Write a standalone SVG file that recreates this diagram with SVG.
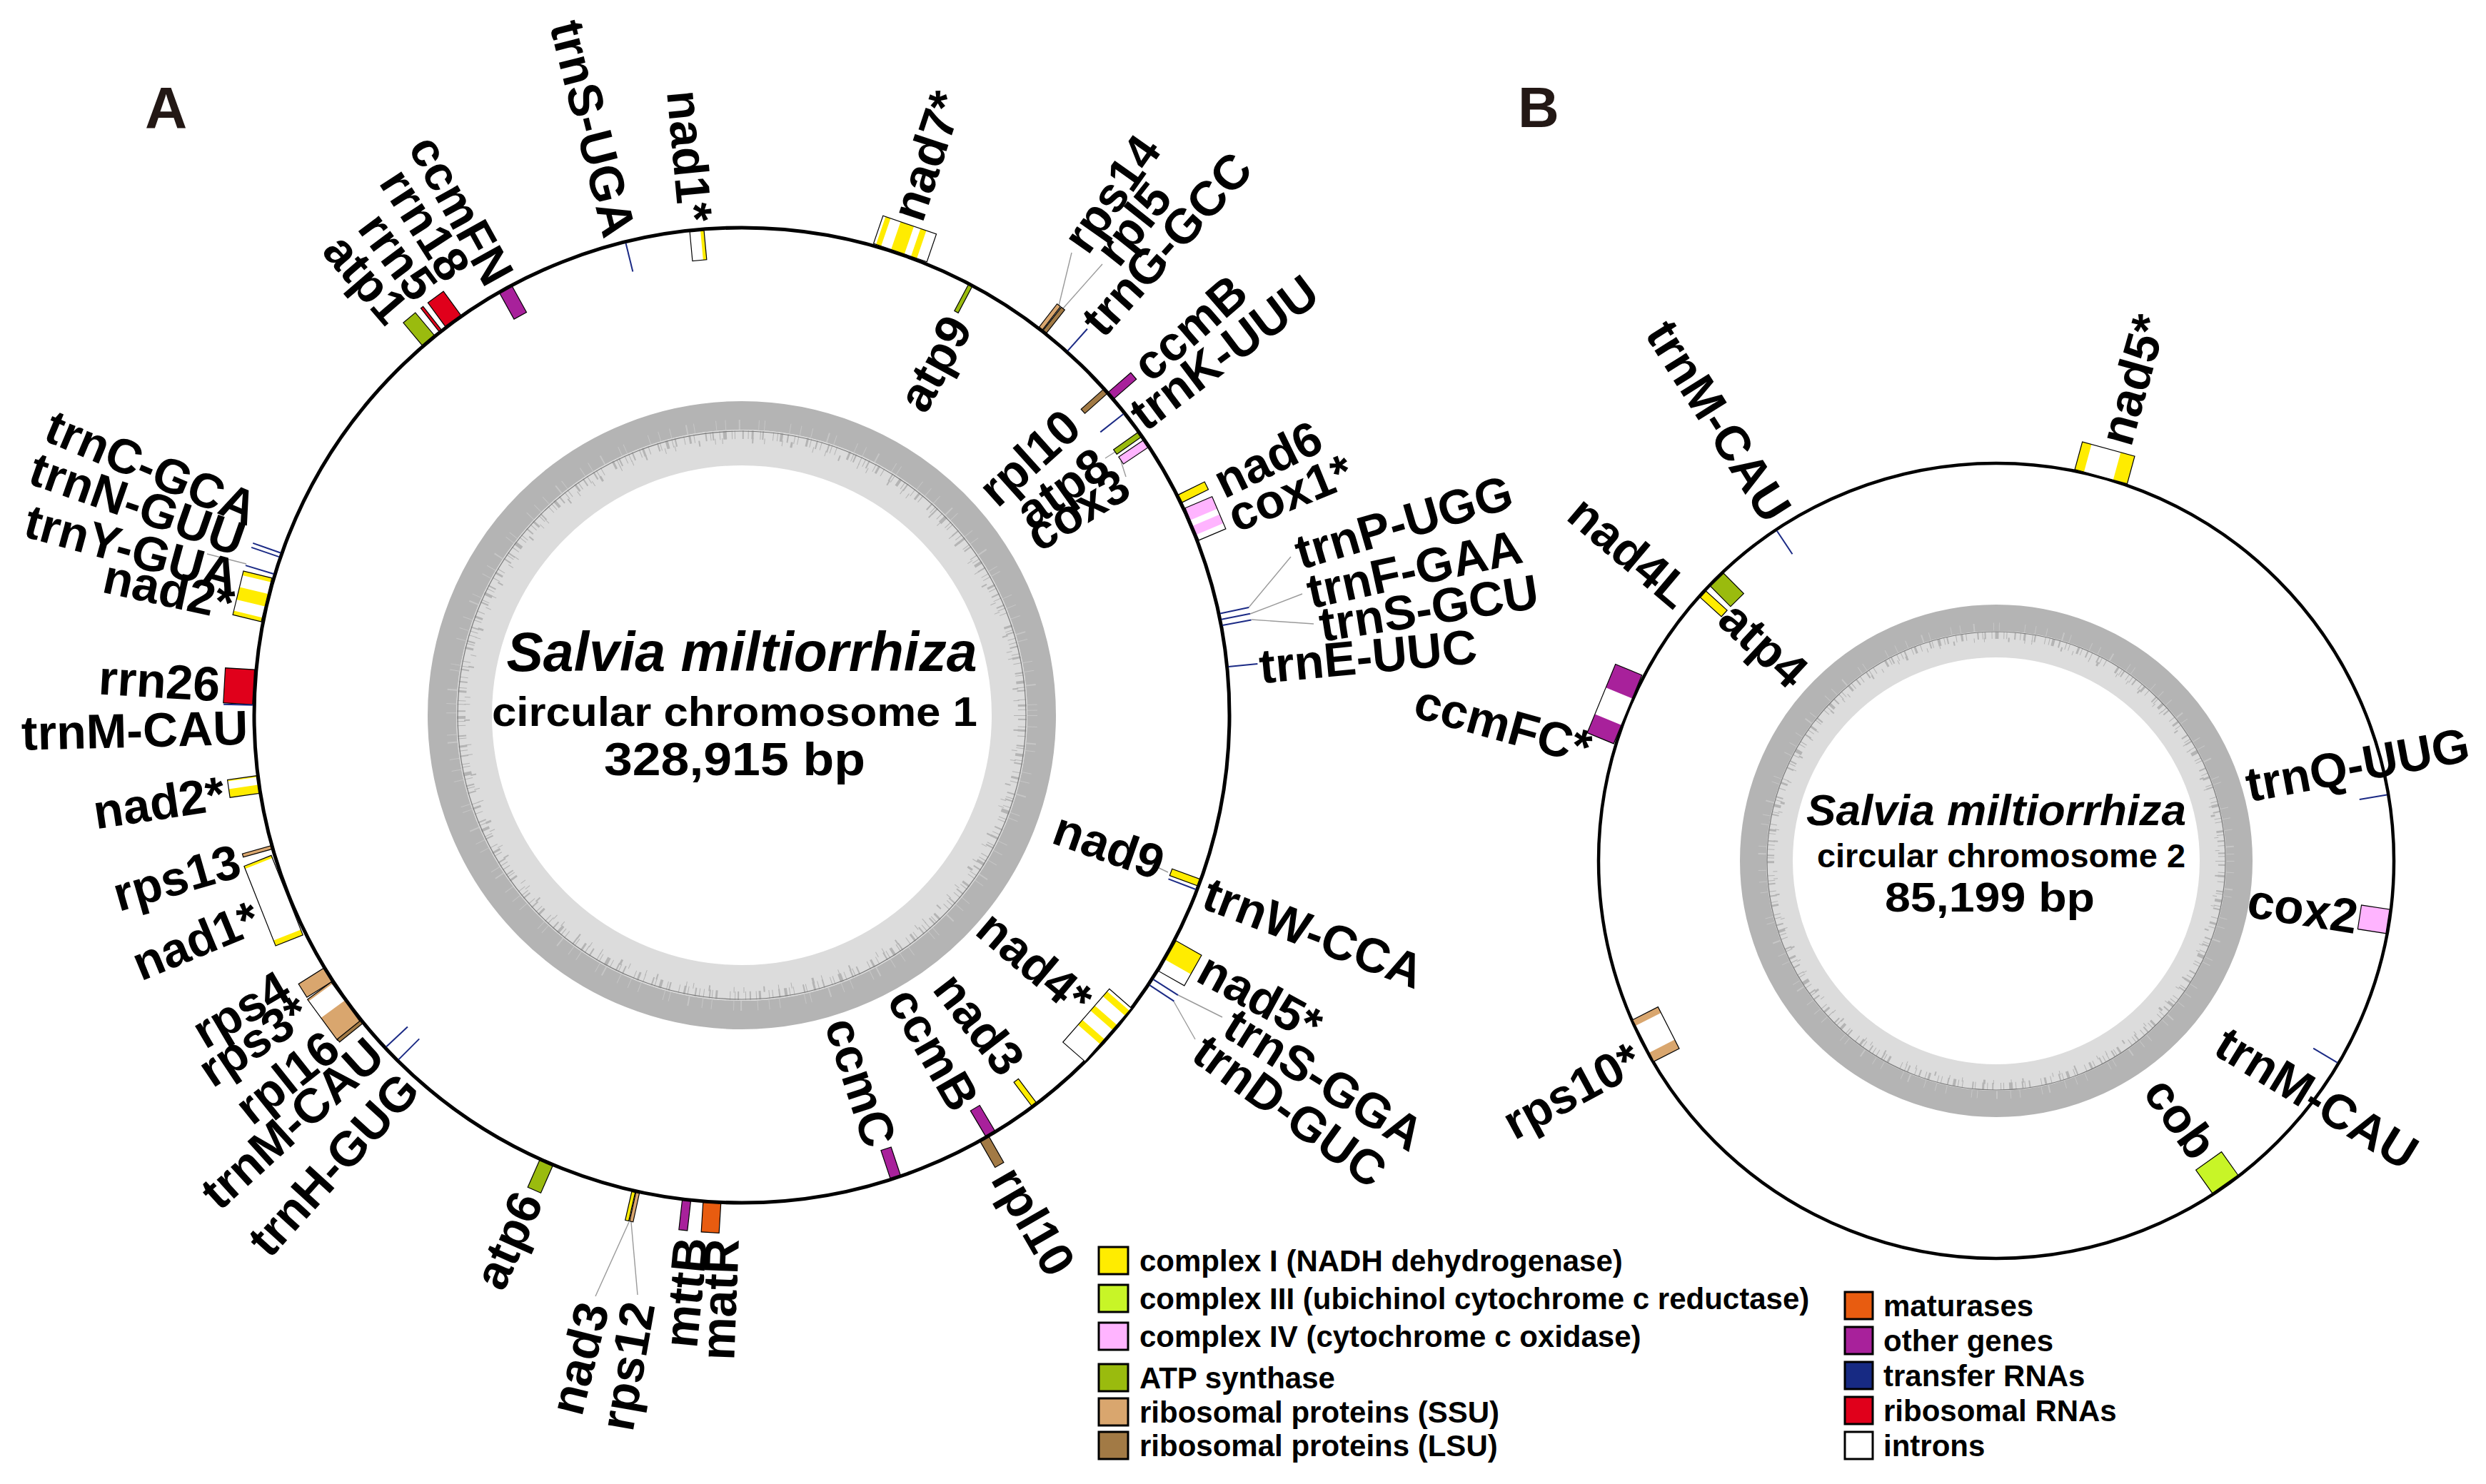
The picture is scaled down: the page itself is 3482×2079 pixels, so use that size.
<svg xmlns="http://www.w3.org/2000/svg" width="3482" height="2079" viewBox="0 0 3482 2079">
<style>
.lb{font-family:"Liberation Sans",Arial,sans-serif;font-weight:bold;font-size:68px;dominant-baseline:central;fill:#000}
.e{text-anchor:end}
.ol{fill:none;stroke:#000;stroke-width:1.2}
.bx{stroke:#000;stroke-width:1.2}
.y{fill:#ffec00}.g3{fill:#c8f527}.pk{fill:#ffb4ff}.at{fill:#9abb0e}.ss{fill:#d9a66e}.ls{fill:#a27a45}.mt{fill:#e85c10}.ot{fill:#a8219b}.rr{fill:#e0001b}.w{fill:#fff}.tb{fill:#172a83}
.tr{stroke:#1b2a85;stroke-width:2}
.ld{stroke:#9a9a9a;stroke-width:1.4;fill:none}
.lg{font-family:"Liberation Sans",Arial,sans-serif;font-weight:bold;font-size:42px;fill:#000}
.lgb{stroke:#000;stroke-width:3}
.ct{font-family:"Liberation Sans",Arial,sans-serif;font-weight:bold;fill:#000}
.pl{font-family:"Liberation Sans",Arial,sans-serif;font-weight:bold;fill:#231815}
.sp1{stroke:#b4b4b4;stroke-dasharray:1 4 2 9 1 3 3 6 1 12 2 2 1 7 4 5 1 3 2 11 1 6 3 4 1 15 2 5 1 2 2 8 1 4 5 7 1 3 1 10 2 6 1 4 3 9 1 2 2 13 1 5 1 3 4 6 2 8 1 4 1 11 3 3 1 7 2 5 1 9 2 3 1 6 1 17 3 4 1 2 2 7 1 5}
.sp2{stroke:#b4b4b4;stroke-dasharray:1 19 2 27 1 13 1 33 2 21 1 9 1 41 2 15 1 24 1 11 3 29 1 17}
.sp3{stroke:#c6c6c6;stroke-dasharray:1 15 1 22 2 9 1 30 1 12 1 18 2 26 1 7 1 35 1 14}
</style>
<rect width="3482" height="2079" fill="#fff"/>

<!-- panel letters -->
<text class="pl" x="203" y="179" font-size="82">A</text>
<text class="pl" x="2126" y="178" font-size="80">B</text>

<!-- GC rings -->
<g id="ringA" fill="none">
<circle cx="1039" cy="1002" r="375" stroke="#dcdcdc" stroke-width="50"/>
<circle cx="1039" cy="1002" r="420" stroke="#b4b4b4" stroke-width="40"/>
<circle cx="1039" cy="1002" r="393" class="sp1" stroke-width="12"/>
<circle cx="1039" cy="1002" r="385" class="sp2" stroke-width="8"/>
<circle cx="1039" cy="1002" r="407" class="sp3" stroke-width="14"/>
<circle cx="1039" cy="1002" r="398" stroke="#7a7a7a" stroke-width="1.2"/>
</g>
<g id="ringB" fill="none">
<circle cx="2796" cy="1206" r="303.5" stroke="#dcdcdc" stroke-width="37"/>
<circle cx="2796" cy="1206" r="340.5" stroke="#b4b4b4" stroke-width="37"/>
<circle cx="2796" cy="1206" r="316" class="sp1" stroke-width="10"/>
<circle cx="2796" cy="1206" r="310" class="sp2" stroke-width="6"/>
<circle cx="2796" cy="1206" r="328" class="sp3" stroke-width="11"/>
<circle cx="2796" cy="1206" r="321" stroke="#7a7a7a" stroke-width="1.2"/>
</g>

<!-- backbone circles -->
<circle id="chrA" cx="1039" cy="1002" r="683" fill="none" stroke="#000" stroke-width="5"/>
<circle id="chrB" cx="2796" cy="1206" r="557" fill="none" stroke="#000" stroke-width="4.5"/>

<!-- centre titles -->
<g id="titleA">
<text class="ct" x="1039" y="940" font-size="77" font-style="italic" text-anchor="middle">Salvia miltiorrhiza</text>
<text class="ct" x="689" y="1017" font-size="58" textLength="680" lengthAdjust="spacingAndGlyphs">circular chromosome 1</text>
<text class="ct" x="846" y="1086" font-size="64" textLength="366" lengthAdjust="spacingAndGlyphs">328,915 bp</text>
</g>
<g id="titleB">
<text class="ct" x="2530" y="1156" font-size="62" font-style="italic" textLength="532" lengthAdjust="spacingAndGlyphs">Salvia miltiorrhiza</text>
<text class="ct" x="2545" y="1215" font-size="46" textLength="516" lengthAdjust="spacingAndGlyphs">circular chromosome 2</text>
<text class="ct" x="2640" y="1277" font-size="57" textLength="294" lengthAdjust="spacingAndGlyphs">85,199 bp</text>
</g>

<!-- connectors (leader lines) -->
<g id="connectors">
<line class="ld" x1="1483" y1="428" x2="1501" y2="354"/>
<line class="ld" x1="1489" y1="432" x2="1544" y2="370"/>
<line class="ld" x1="1749" y1="851" x2="1808" y2="780"/>
<line class="ld" x1="1751" y1="860" x2="1824" y2="832"/>
<line class="ld" x1="1753" y1="868" x2="1840" y2="874"/>
<line class="ld" x1="1650" y1="1394" x2="1712" y2="1425"/>
<line class="ld" x1="1644" y1="1403" x2="1674" y2="1456"/>
<line class="ld" x1="881" y1="1712" x2="834" y2="1816"/>
<line class="ld" x1="884" y1="1712" x2="893" y2="1814"/>
<line class="ld" x1="1562" y1="633" x2="1548" y2="642"/>
<line class="ld" x1="1570" y1="646" x2="1577" y2="668"/>
<line class="ld" x1="345" y1="790" x2="290" y2="776"/>
<line class="ld" x1="1636" y1="1222" x2="1600" y2="1205"/>
</g>

<!-- ===== Chromosome 1 genes ===== -->
<g id="A-nad1-top">
<g transform="translate(1039 1002) rotate(354.7)"><rect class="w" x="-10" y="-681" width="20" height="41"/><rect class="y" x="5" y="-681" width="5" height="41"/><rect class="ol" x="-10" y="-681" width="20" height="41"/></g>
<text class="lb e" transform="translate(1039 1002) rotate(84.7)" x="-694">nad1*</text>
</g>
<g id="A-trnS-UGA">
<line class="tr" transform="translate(1039 1002) rotate(346.2)" x1="0" y1="-681" x2="0" y2="-640"/>
<text class="lb e" transform="translate(1039 1002) rotate(75.8)" x="-693">trnS-UGA</text>
</g>
<g id="A-ccmFN">
<rect class="bx ot" transform="translate(1039 1002) rotate(331)" x="-10" y="-681" width="20" height="41"/>
<text class="lb e" transform="translate(1039 1002) rotate(61)" x="-696">ccmFN</text>
</g>
<g id="A-rrn18">
<rect class="bx rr" transform="translate(1039 1002) rotate(323.8)" x="-13.5" y="-726" width="27" height="41"/>
<text class="lb e" transform="translate(1039 1002) rotate(57.2)" x="-733">rrn18</text>
</g>
<g id="A-rrn5">
<rect class="bx rr" transform="translate(1039 1002) rotate(321.9)" x="-2" y="-726" width="4" height="41"/>
<text class="lb e" transform="translate(1039 1002) rotate(53.2)" x="-737">rrn5</text>
</g>
<g id="A-atp1">
<rect class="bx at" transform="translate(1039 1002) rotate(320.1)" x="-11" y="-726" width="22" height="41"/>
<text class="lb e" transform="translate(1039 1002) rotate(49.3)" x="-737">atp1</text>
</g>
<g id="A-trnC-GCA">
<line class="tr" transform="translate(1039 1002) rotate(289.4)" x1="0" y1="-685" x2="0" y2="-726"/>
<text class="lb e" transform="translate(1039 1002) rotate(22.8)" x="-740">trnC-GCA</text>
</g>
<g id="A-trnN-GUU">
<line class="tr" transform="translate(1039 1002) rotate(288.9)" x1="0" y1="-685" x2="0" y2="-726"/>
<text class="lb e" transform="translate(1039 1002) rotate(19.3)" x="-740">trnN-GUU</text>
</g>
<g id="A-trnY-GUA">
<line class="tr" transform="translate(1039 1002) rotate(286.8)" x1="0" y1="-685" x2="0" y2="-726"/>
<text class="lb e" transform="translate(1039 1002) rotate(15.3)" x="-733">trnY-GUA</text>
</g>
<g id="A-nad2-up">
<g transform="translate(1039 1002) rotate(283.65)"><rect class="w" x="-31.5" y="-726" width="63" height="41"/><rect class="y" x="25.5" y="-726" width="6" height="41"/><rect class="y" x="-9.5" y="-726" width="18" height="41"/><rect class="y" x="-31.5" y="-726" width="6" height="41"/><rect class="ol" x="-31.5" y="-726" width="63" height="41"/></g>
<text class="lb e" transform="translate(1039 1002) rotate(12.4)" x="-729">nad2*</text>
</g>
<g id="A-rrn26">
<rect class="bx rr" transform="translate(1039 1002) rotate(273.3)" x="-24.5" y="-726" width="49" height="41"/>
<text class="lb e" transform="translate(1039 1002) rotate(3.4)" x="-732">rrn26</text>
</g>
<g id="A-trnM-CAU-1">
<line class="tr" transform="translate(1039 1002) rotate(271.2)" x1="0" y1="-685" x2="0" y2="-726"/>
<text class="lb e" transform="translate(1039 1002) rotate(-1.4)" x="-692">trnM-CAU</text>
</g>
<g id="A-nad2-low">
<g transform="translate(1039 1002) rotate(261.85)"><rect class="w" x="-12.5" y="-726" width="25" height="41"/><rect class="y" x="10.5" y="-726" width="2" height="41"/><rect class="y" x="-12.5" y="-726" width="12" height="41"/><rect class="ol" x="-12.5" y="-726" width="25" height="41"/></g>
<text class="lb e" transform="translate(1039 1002) rotate(-8.5)" x="-733">nad2*</text>
</g>
<g id="A-rps13">
<rect class="bx ss" transform="translate(1039 1002) rotate(254.3)" x="-2.5" y="-726" width="5" height="41"/>
<text class="lb e" transform="translate(1039 1002) rotate(-16)" x="-733">rps13</text>
</g>
<g id="A-nad1-left">
<g transform="translate(1039 1002) rotate(248.4)"><rect class="w" x="-60" y="-726" width="120" height="41"/><rect class="y" x="56" y="-726" width="4" height="41"/><rect class="y" x="-60" y="-726" width="8" height="41"/><rect class="ol" x="-60" y="-726" width="120" height="41"/></g>
<text class="lb e" transform="translate(1039 1002) rotate(-22.4)" x="-735">nad1*</text>
</g>
<g id="A-rps4">
<rect class="bx ss" transform="translate(1039 1002) rotate(237.9)" x="-11" y="-726" width="22" height="41"/>
<text class="lb e" transform="translate(1039 1002) rotate(-30.4)" x="-742">rps4</text>
</g>
<g id="A-rps3">
<g transform="translate(1039 1002) rotate(233.8)"><rect class="w" x="-33" y="-726" width="71" height="41"/><rect class="ss" x="35" y="-726" width="3" height="41"/><rect class="ss" x="-33" y="-726" width="39" height="41"/><rect class="ol" x="-33" y="-726" width="71" height="41"/></g>
<text class="lb e" transform="translate(1039 1002) rotate(-33.7)" x="-737">rps3*</text>
</g>
<g id="A-rpl16">
<rect class="bx ls" transform="translate(1039 1002) rotate(231.1)" x="-2.5" y="-726" width="5" height="41"/>
<text class="lb e" transform="translate(1039 1002) rotate(-38.5)" x="-733">rpl16</text>
</g>
<g id="A-trnM-CAU-2">
<line class="tr" transform="translate(1039 1002) rotate(227)" x1="0" y1="-681" x2="0" y2="-640"/>
<text class="lb e" transform="translate(1039 1002) rotate(-42.2)" x="-692">trnM-CAU</text>
</g>
<g id="A-trnH-GUG">
<line class="tr" transform="translate(1039 1002) rotate(224.9)" x1="0" y1="-681" x2="0" y2="-640"/>
<text class="lb e" transform="translate(1039 1002) rotate(-47.7)" x="-692">trnH-GUG</text>
</g>
<g id="A-atp6">
<rect class="bx at" transform="translate(1039 1002) rotate(203.6)" x="-10" y="-726" width="20" height="41"/>
<text class="lb e" transform="translate(1039 1002) rotate(-66)" x="-735">atp6</text>
</g>
<g id="A-nad3-bottom">
<rect class="bx y" transform="translate(1039 1002) rotate(192.8)" x="-2.5" y="-726" width="5" height="41"/>
<text class="lb e" transform="translate(1039 1002) rotate(-75.8)" x="-850">nad3</text>
</g>
<g id="A-rps12">
<rect class="bx ss" transform="translate(1039 1002) rotate(192.3)" x="-2.5" y="-726" width="5" height="41"/>
<text class="lb e" transform="translate(1039 1002) rotate(-80)" x="-835">rps12</text>
</g>
<g id="A-mttB">
<rect class="bx ot" transform="translate(1039 1002) rotate(186.5)" x="-6" y="-726" width="12" height="41"/>
<text class="lb e" transform="translate(1039 1002) rotate(-84.4)" x="-735">mttB</text>
</g>
<g id="A-matR">
<rect class="bx mt" transform="translate(1039 1002) rotate(183.5)" x="-12.5" y="-726" width="25" height="41"/>
<text class="lb e" transform="translate(1039 1002) rotate(-87.8)" x="-734">matR</text>
</g>
<g id="A-ccmC">
<rect class="bx ot" transform="translate(1039 1002) rotate(161.6)" x="-7.5" y="-681" width="15" height="41"/>
<text class="lb e" transform="translate(1039 1002) rotate(72)" x="633">ccmC</text>
</g>
<g id="A-ccmB-bottom">
<rect class="bx ot" transform="translate(1039 1002) rotate(149.3)" x="-7.5" y="-681" width="15" height="41"/>
<text class="lb e" transform="translate(1039 1002) rotate(60.1)" x="632">ccmB</text>
</g>
<g id="A-rpl10-bottom">
<rect class="bx ls" transform="translate(1039 1002) rotate(150.2)" x="-7" y="-726" width="14" height="41"/>
<text class="lb" transform="translate(1039 1002) rotate(60)" x="737">rpl10</text>
</g>
<g id="A-nad3-right">
<rect class="bx y" transform="translate(1039 1002) rotate(143.1)" x="-4" y="-681" width="8" height="41"/>
<text class="lb e" transform="translate(1039 1002) rotate(52.4)" x="625">nad3</text>
</g>
<g id="A-nad4">
<g transform="translate(1039 1002) rotate(131.1)"><rect class="w" x="-49.5" y="-681" width="99" height="41"/><rect class="y" x="-44.9" y="-681" width="9.2" height="41"/><rect class="y" x="-18.4" y="-681" width="9.2" height="41"/><rect class="y" x="8.1" y="-681" width="9.2" height="41"/><rect class="ol" x="-49.5" y="-681" width="99" height="41"/></g>
<text class="lb e" transform="translate(1039 1002) rotate(40.2)" x="630">nad4*</text>
</g>
<g id="A-trnD-GUC">
<line class="tr" transform="translate(1039 1002) rotate(123.5)" x1="0" y1="-685" x2="0" y2="-726"/>
<text class="lb" transform="translate(1039 1002) rotate(35.8)" x="790">trnD-GUC</text>
</g>
<g id="A-trnS-GGA">
<line class="tr" transform="translate(1039 1002) rotate(122.7)" x1="0" y1="-685" x2="0" y2="-726"/>
<text class="lb" transform="translate(1039 1002) rotate(32)" x="805">trnS-GGA</text>
</g>
<g id="A-nad5">
<g transform="translate(1039 1002) rotate(119.5)"><rect class="w" x="-24.5" y="-726" width="49" height="41"/><rect class="y" x="-24.5" y="-726" width="30.5" height="41"/><rect class="ol" x="-24.5" y="-726" width="49" height="41"/></g>
<text class="lb" transform="translate(1039 1002) rotate(28.5)" x="734">nad5*</text>
</g>
<g id="A-trnW-CCA">
<line class="tr" transform="translate(1039 1002) rotate(111)" x1="0" y1="-681" x2="0" y2="-640"/>
<text class="lb" transform="translate(1039 1002) rotate(20.8)" x="695">trnW-CCA</text>
</g>
<g id="A-nad9">
<rect class="bx y" transform="translate(1039 1002) rotate(110.1)" x="-5" y="-681" width="10" height="41"/>
<text class="lb e" transform="translate(1039 1002) rotate(19.5)" x="625">nad9</text>
</g>
<g id="A-trnE-UUC">
<line class="tr" transform="translate(1039 1002) rotate(84.3)" x1="0" y1="-685" x2="0" y2="-726"/>
<text class="lb" transform="translate(1039 1002) rotate(-5.4)" x="728">trnE-UUC</text>
</g>
<g id="A-trnS-GCU">
<line class="tr" transform="translate(1039 1002) rotate(79.4)" x1="0" y1="-685" x2="0" y2="-726"/>
<text class="lb" transform="translate(1039 1002) rotate(-8.9)" x="819">trnS-GCU</text>
</g>
<g id="A-trnF-GAA">
<line class="tr" transform="translate(1039 1002) rotate(78.7)" x1="0" y1="-685" x2="0" y2="-726"/>
<text class="lb" transform="translate(1039 1002) rotate(-12.3)" x="811">trnF-GAA</text>
</g>
<g id="A-trnP-UGG">
<line class="tr" transform="translate(1039 1002) rotate(78)" x1="0" y1="-685" x2="0" y2="-726"/>
<text class="lb" transform="translate(1039 1002) rotate(-16.3)" x="809">trnP-UGG</text>
</g>
<g id="A-cox1">
<g transform="translate(1039 1002) rotate(67)"><rect class="w" x="-24.5" y="-726" width="49" height="41"/><rect class="pk" x="-24.5" y="-726" width="18.5" height="41"/><rect class="pk" x="2.5" y="-726" width="13.5" height="41"/><rect class="ol" x="-24.5" y="-726" width="49" height="41"/></g>
<text class="lb" transform="translate(1039 1002) rotate(-22.1)" x="738">cox1*</text>
</g>
<g id="A-nad6">
<rect class="bx y" transform="translate(1039 1002) rotate(63.7)" x="-6" y="-726" width="12" height="41"/>
<text class="lb" transform="translate(1039 1002) rotate(-26)" x="740">nad6</text>
</g>
<g id="A-cox3">
<rect class="bx pk" transform="translate(1039 1002) rotate(56.1)" x="-6" y="-681" width="12" height="41"/>
<text class="lb e" transform="translate(1039 1002) rotate(-31.5)" x="629">cox3</text>
</g>
<g id="A-atp8">
<rect class="bx at" transform="translate(1039 1002) rotate(54.8)" x="-4" y="-681" width="8" height="41"/>
<text class="lb e" transform="translate(1039 1002) rotate(-35.4)" x="620">atp8</text>
</g>
<g id="A-trnK-UUU">
<line class="tr" transform="translate(1039 1002) rotate(51.7)" x1="0" y1="-681" x2="0" y2="-640"/>
<text class="lb" transform="translate(1039 1002) rotate(-37)" x="690">trnK-UUU</text>
</g>
<g id="A-ccmB-top">
<rect class="bx ot" transform="translate(1039 1002) rotate(49.1)" x="-6" y="-726" width="12" height="41"/>
<text class="lb" transform="translate(1039 1002) rotate(-40.9)" x="737">ccmB</text>
</g>
<g id="A-rpl10-top">
<rect class="bx ls" transform="translate(1039 1002) rotate(48.3)" x="-4" y="-681" width="8" height="41"/>
<text class="lb e" transform="translate(1039 1002) rotate(-41.9)" x="622">rpl10</text>
</g>
<g id="A-trnG-GCC">
<line class="tr" transform="translate(1039 1002) rotate(41.8)" x1="0" y1="-685" x2="0" y2="-726"/>
<text class="lb" transform="translate(1039 1002) rotate(-48)" x="730">trnG-GCC</text>
</g>
<g id="A-rpl5">
<rect class="bx ls" transform="translate(1039 1002) rotate(38.3)" x="-3" y="-726" width="6" height="41"/>
<text class="lb" transform="translate(1039 1002) rotate(-51.5)" x="818">rpl5</text>
</g>
<g id="A-rps14">
<rect class="bx ss" transform="translate(1039 1002) rotate(37.7)" x="-3" y="-726" width="6" height="41"/>
<text class="lb" transform="translate(1039 1002) rotate(-54.7)" x="805">rps14</text>
</g>
<g id="A-atp9">
<rect class="bx at" transform="translate(1039 1002) rotate(28)" x="-3" y="-681" width="6" height="41"/>
<text class="lb e" transform="translate(1039 1002) rotate(-61.3)" x="632">atp9</text>
</g>
<g id="A-nad7">
<g transform="translate(1039 1002) rotate(18.9)"><rect class="w" x="-39.5" y="-726" width="79" height="41"/><rect class="y" x="-35.7" y="-726" width="7.4" height="41"/><rect class="y" x="-13.5" y="-726" width="19.7" height="41"/><rect class="y" x="16" y="-726" width="8.6" height="41"/><rect class="ol" x="-39.5" y="-726" width="79" height="41"/></g>
<text class="lb" transform="translate(1039 1002) rotate(-71.7)" x="733">nad7*</text>
</g>

<!-- ===== Chromosome 2 genes ===== -->
<g id="B-nad5">
<g transform="translate(2796 1206) rotate(15.25)"><rect class="w" x="-38" y="-598" width="76" height="40"/><rect class="y" x="-38" y="-598" width="13.3" height="40"/><rect class="y" x="17.7" y="-598" width="20.3" height="40"/><rect class="ol" x="-38" y="-598" width="76" height="40"/></g>
<text class="lb" transform="translate(2796 1206) rotate(-74.2)" x="608">nad5*</text>
</g>
<g id="B-trnM-CAU-1">
<line class="tr" transform="translate(2796 1206) rotate(326.4)" x1="0" y1="-555" x2="0" y2="-516"/>
<text class="lb e" transform="translate(2796 1206) rotate(57.8)" x="-570">trnM-CAU</text>
</g>
<g id="B-nad4L">
<rect class="bx y" transform="translate(2796 1206) rotate(312.3)" x="-6" y="-555" width="12" height="40"/>
<text class="lb e" transform="translate(2796 1206) rotate(40.2)" x="-571">nad4L</text>
</g>
<g id="B-atp4">
<rect class="bx at" transform="translate(2796 1206) rotate(315.2)" x="-13" y="-555" width="26" height="40"/>
<text class="lb" transform="translate(2796 1206) rotate(43)" x="-515">atp4</text>
</g>
<g id="B-ccmFC">
<g transform="translate(2796 1206) rotate(292.35)"><rect class="w" x="-52" y="-598" width="104" height="40"/><rect class="ot" x="16.6" y="-598" width="35.4" height="40"/><rect class="ot" x="-52" y="-598" width="28.3" height="40"/><rect class="ol" x="-52" y="-598" width="104" height="40"/></g>
<text class="lb e" transform="translate(2796 1206) rotate(15.5)" x="-590">ccmFC*</text>
</g>
<g id="B-trnQ-UUG">
<line class="tr" transform="translate(2796 1206) rotate(80.4)" x1="0" y1="-555" x2="0" y2="-516"/>
<text class="lb" transform="translate(3146 1100) rotate(-10.6)" x="0">trnQ-UUG</text>
</g>
<g id="B-cox2">
<rect class="bx pk" transform="translate(2796 1206) rotate(98.8)" x="-17" y="-555" width="34" height="40"/>
<text class="lb e" transform="translate(2796 1206) rotate(8.8)" x="512">cox2</text>
</g>
<g id="B-trnM-CAU-2">
<line class="tr" transform="translate(2796 1206) rotate(120.6)" x1="0" y1="-555" x2="0" y2="-516"/>
<text class="lb" transform="translate(3110 1455) rotate(31.5)" x="0">trnM-CAU</text>
</g>
<g id="B-cob">
<rect class="bx g3" transform="translate(2796 1206) rotate(144.7)" x="-22" y="-555" width="44" height="40"/>
<text class="lb e" transform="translate(2796 1206) rotate(54.3)" x="504">cob</text>
</g>
<g id="B-rps10">
<g transform="translate(2796 1206) rotate(243)"><rect class="w" x="-32.7" y="-555" width="65.4" height="40"/><rect class="ss" x="23.4" y="-555" width="9.3" height="40"/><rect class="ss" x="-32.7" y="-555" width="14" height="40"/><rect class="ol" x="-32.7" y="-555" width="65.4" height="40"/></g>
<text class="lb e" transform="translate(2796 1206) rotate(-28.4)" x="-572">rps10*</text>
</g>

<!-- ===== legend ===== -->
<g id="legend">
<g id="lg-complexI"><rect class="lgb y" x="1539" y="1747" width="41" height="38"/><text class="lg" x="1596" y="1781">complex I (NADH dehydrogenase)</text></g>
<g id="lg-complexIII"><rect class="lgb g3" x="1539" y="1800" width="41" height="38"/><text class="lg" x="1596" y="1834">complex III (ubichinol cytochrome c reductase)</text></g>
<g id="lg-complexIV"><rect class="lgb pk" x="1539" y="1853" width="41" height="38"/><text class="lg" x="1596" y="1887">complex IV (cytochrome c oxidase)</text></g>
<g id="lg-atp"><rect class="lgb at" x="1539" y="1911" width="41" height="38"/><text class="lg" x="1596" y="1945">ATP synthase</text></g>
<g id="lg-ssu"><rect class="lgb ss" x="1539" y="1959" width="41" height="38"/><text class="lg" x="1596" y="1993">ribosomal proteins (SSU)</text></g>
<g id="lg-lsu"><rect class="lgb ls" x="1539" y="2006" width="41" height="38"/><text class="lg" x="1596" y="2040">ribosomal proteins (LSU)</text></g>
<g id="lg-mat"><rect class="lgb mt" x="2584" y="1810" width="39" height="38"/><text class="lg" x="2638" y="1844">maturases</text></g>
<g id="lg-other"><rect class="lgb ot" x="2584" y="1859" width="39" height="38"/><text class="lg" x="2638" y="1893">other genes</text></g>
<g id="lg-trna"><rect class="lgb tb" x="2584" y="1908" width="39" height="38"/><text class="lg" x="2638" y="1942">transfer RNAs</text></g>
<g id="lg-rrna"><rect class="lgb rr" x="2584" y="1957" width="39" height="38"/><text class="lg" x="2638" y="1991">ribosomal RNAs</text></g>
<g id="lg-intron"><rect class="lgb w" x="2584" y="2006" width="39" height="38"/><text class="lg" x="2638" y="2040">introns</text></g>
</g>
</svg>
